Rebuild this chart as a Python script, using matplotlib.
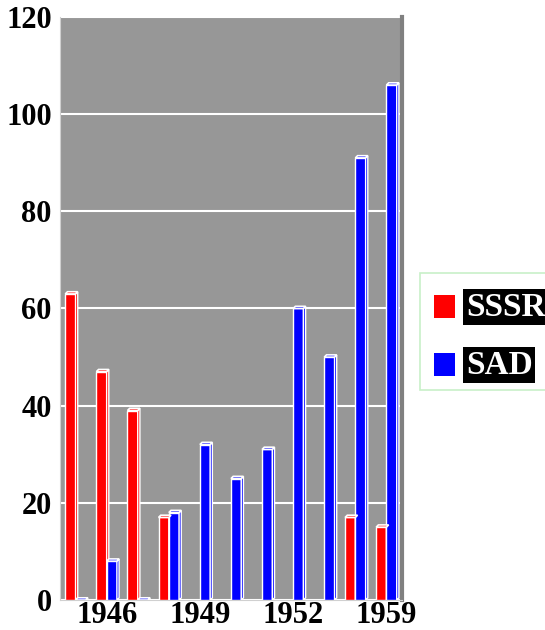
import numpy as np
import matplotlib.pyplot as plt
from matplotlib.patches import Polygon, Rectangle

years = ['1945', '1946', '1947', '1948', '1949', '1950', '1951', '1952', '1953', '1958', '1959']
sssr = [63, 47, 39, 17, None, None, None, None, None, 17, 15]
sad = [0, 8, 0, 18, 32, 25, 31, 60, 50, 91, 106]
shown_ticks = [1, 4, 7, 10]

plt.rcParams['font.family'] = ['Liberation Serif', 'DejaVu Serif']

fig = plt.figure(figsize=(5.45, 6.3), dpi=100)
ax = fig.add_axes([60 / 545, 30 / 630, 342 / 545, 583 / 630])
ax.set_facecolor('#979797')

w = 0.33
dx = 0.07
dy = 0.45


def bar3d(x0, h, color):
    ax.add_patch(Rectangle((x0, 0), w, h, facecolor=color, edgecolor='white', lw=1, zorder=3))
    side = [(x0 + w, 0), (x0 + w + dx, dy), (x0 + w + dx, h + dy), (x0 + w, h)]
    ax.add_patch(Polygon(side, facecolor=color, edgecolor='white', lw=1, zorder=3))
    top = [(x0, h), (x0 + w, h), (x0 + w + dx, h + dy), (x0 + dx, h + dy)]
    ax.add_patch(Polygon(top, facecolor=color, edgecolor='white', lw=1.2, zorder=4))


x = np.arange(len(years))
for i in x:
    if sssr[i] is not None:
        bar3d(i - w, sssr[i], '#ff0000')
    if sad[i] is not None:
        bar3d(i, sad[i], '#0000ff')

ax.set_xlim(-0.5, len(years) - 0.5)
ax.set_ylim(0, 120)
ax.set_yticks(range(0, 121, 20))
ax.yaxis.grid(True, color='white', lw=1.5)
ax.set_axisbelow(True)
ax.set_xticks(x[shown_ticks])
ax.set_xticklabels([years[i] for i in shown_ticks])
ax.tick_params(length=0, labelsize=22)
ax.tick_params(axis='y', pad=6)
ax.tick_params(axis='x', pad=1)
for lab in ax.get_xticklabels() + ax.get_yticklabels():
    lab.set_fontweight('bold')
ax.spines['left'].set_color('#d0d0d0')
ax.spines['bottom'].set_color('#d0d0d0')
ax.spines['top'].set_visible(False)
ax.spines['right'].set_color('#808080')
ax.spines['right'].set_linewidth(3)

# legend
fig.patches.append(Rectangle((420 / 545, (630 - 390) / 630), 130 / 545, 117 / 630,
                             transform=fig.transFigure, facecolor='white',
                             edgecolor='#c8f0c8', lw=1.2))
fig.patches.append(Rectangle((434 / 545, (630 - 318) / 630), 21 / 545, 23 / 630,
                             transform=fig.transFigure, facecolor='#ff0000', edgecolor='none'))
fig.patches.append(Rectangle((434 / 545, (630 - 376) / 630), 21 / 545, 23 / 630,
                             transform=fig.transFigure, facecolor='#0000ff', edgecolor='none'))
for label, yc in [('SSSR', 307), ('SAD', 365)]:
    fig.text(466 / 545, (630 - yc) / 630, label, color='white', fontsize=24,
             fontweight='bold', va='center', ha='left',
             bbox=dict(facecolor='black', edgecolor='none', pad=2))

fig.savefig('out.png', dpi=100)
